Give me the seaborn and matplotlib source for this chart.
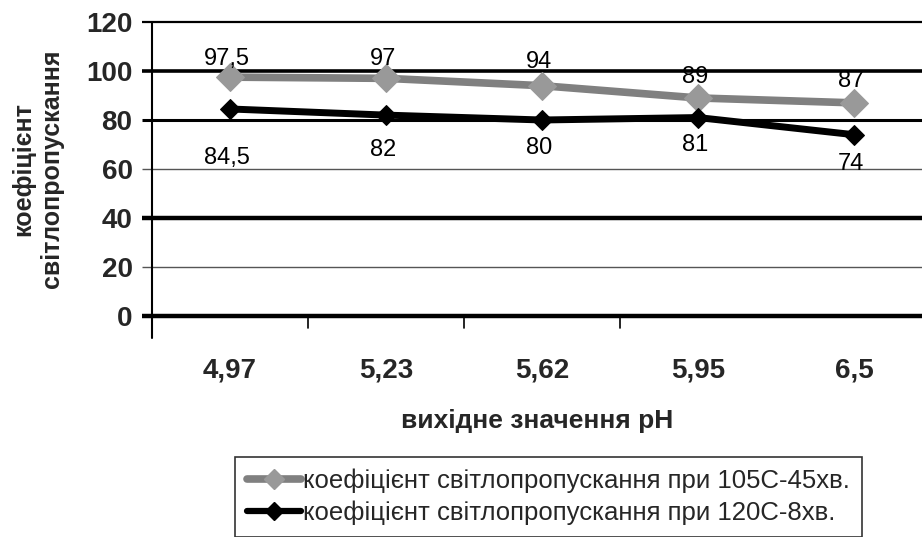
import matplotlib
matplotlib.use("Agg")
import matplotlib.pyplot as plt
import seaborn as sns
import pandas as pd
from matplotlib.lines import Line2D

# pH values on the x axis
ph_labels = ["4,97", "5,23", "5,62", "5,95", "6,5"]
# light transmission coefficient, 105C - 45 min
series_105 = [97.5, 97, 94, 89, 87]
# light transmission coefficient, 120C - 8 min
series_120 = [84.5, 82, 80, 81, 74]
series_names = [
    "коефіцієнт світлопропускання при 105С-45хв.",
    "коефіцієнт світлопропускання при 120С-8хв.",
]
y_ticks = [0, 20, 40, 60, 80, 100, 120]

sns.set_theme(style="white")
plt.rcParams["font.family"] = ["Liberation Sans", "DejaVu Sans"]
NARROW = ["Liberation Sans Narrow", "Liberation Sans", "DejaVu Sans"]

rows = []
for name, vals in zip(series_names, [series_105, series_120]):
    for i, v in enumerate(vals):
        rows.append({"pos": i, "value": v, "series": name})
df = pd.DataFrame(rows)

fig = plt.figure(figsize=(9.22, 5.37), dpi=100)
ax = fig.add_axes([152 / 922, 1 - 316 / 537, 1 - 152 / 922, (316 - 22) / 537])

# horizontal gridlines (extended left as tick marks), varying weights
grid_w = {0: 3.2, 20: 1.0, 40: 3.2, 60: 1.0, 80: 2.2, 100: 2.6, 120: 1.6}
grid_c = {0: "black", 20: "#555555", 40: "black", 60: "#555555",
          80: "black", 100: "black", 120: "black"}
ytr = ax.get_yaxis_transform()
for t in y_ticks:
    ax.plot([-10 / 770, 1], [t, t], transform=ytr, color=grid_c[t],
            lw=grid_w[t], zorder=1, clip_on=False, solid_capstyle="butt")

sns.lineplot(data=df[df.series == series_names[0]], x="pos", y="value",
             color="#808080", lw=5.5, marker="D", markersize=14,
             markerfacecolor="#999999", markeredgecolor="#999999",
             ax=ax, legend=False, zorder=3)
sns.lineplot(data=df[df.series == series_names[1]], x="pos", y="value",
             color="black", lw=5, marker="D", markersize=10,
             markerfacecolor="black", markeredgecolor="black",
             ax=ax, legend=False, zorder=4)

def fmt(v):
    return (f"{v:g}").replace(".", ",")

above = [13, 14, 17, 15, 16]
for i, v in enumerate(series_105):
    ax.annotate(fmt(v), (i, v), xytext=(-2, above[i]), textcoords="offset points",
                ha="center", va="center", fontsize=17, color="black",
                family=NARROW)
below = [-35, -25, -20, -20, -21]
for i, v in enumerate(series_120):
    ax.annotate(fmt(v), (i, v), xytext=(-2, below[i]), textcoords="offset points",
                ha="center", va="center", fontsize=17, color="black",
                family=NARROW)

ax.set_ylim(0, 120)
ax.set_xlim(-0.5, 4.436)
ax.set_yticks(y_ticks)
ax.set_yticklabels([str(t) for t in y_ticks], fontsize=20, fontweight="bold")
ax.set_xticks(range(len(ph_labels)))
ax.set_xticklabels(ph_labels, fontsize=20, fontweight="bold", family=NARROW)
ax.tick_params(axis="x", length=0, pad=30)
ax.tick_params(axis="y", length=0, pad=14)

# y axis line, running a little below zero
ax.plot([-0.5, -0.5], [-9, 120], color="black", lw=1.5, clip_on=False, zorder=2)
# category boundary ticks
for b in [0.5, 1.5, 2.5]:
    ax.plot([b, b], [0, -5], color="black", lw=1.2, clip_on=False)

for s in ["top", "right", "bottom", "left"]:
    ax.spines[s].set_visible(False)

ax.set_xlabel("вихідне значення рН", fontsize=19, fontweight="bold", labelpad=18,
              family=NARROW)
ax.set_ylabel("коефіцієнт\nсвітлопропускання", fontsize=18, fontweight="bold",
              labelpad=16, linespacing=1.25)

handles = [
    Line2D([], [], color="#808080", lw=5.5, marker="D", markersize=10,
           markerfacecolor="#999999", markeredgecolor="#999999"),
    Line2D([], [], color="black", lw=4.5, marker="D", markersize=9),
]
leg = fig.legend(handles, series_names, loc="upper left",
                 bbox_to_anchor=(235 / 922, 1 - 457 / 537), fontsize=18.5,
                 frameon=True, fancybox=False, edgecolor="black",
                 handlelength=2.1, handletextpad=0.1,
                 borderpad=0.45, labelspacing=0.3, borderaxespad=0)
leg.get_frame().set_linewidth(1.2)
for txt in leg.get_texts():
    txt.set_family(NARROW)

fig.savefig("out.png", dpi=100)
